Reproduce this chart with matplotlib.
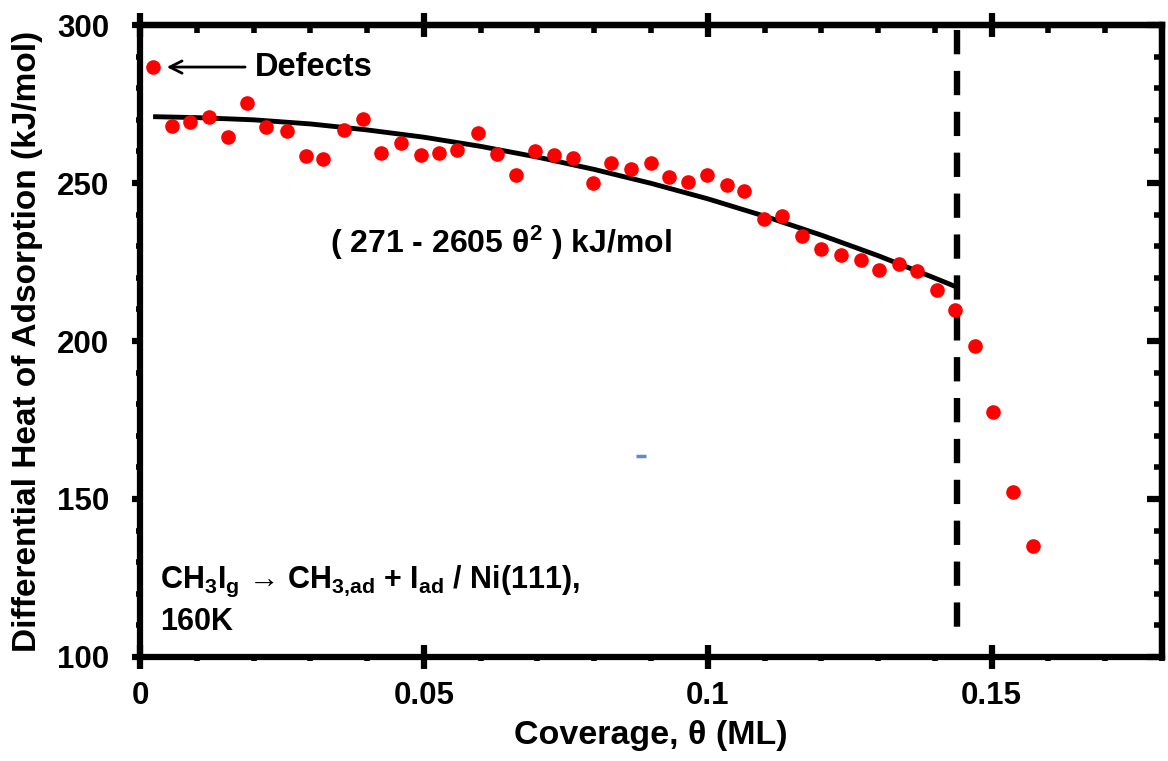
import matplotlib
matplotlib.use("Agg")
import matplotlib.pyplot as plt
from matplotlib.ticker import MultipleLocator, FixedLocator, FixedFormatter

plt.rcParams['font.family'] = ['Liberation Sans', 'DejaVu Sans']
plt.rcParams['font.weight'] = 'bold'
plt.rcParams['mathtext.fontset'] = 'custom'
plt.rcParams['mathtext.rm'] = 'Liberation Sans:bold'
plt.rcParams['mathtext.it'] = 'Liberation Sans:bold'
plt.rcParams['mathtext.bf'] = 'Liberation Sans:bold'
plt.rcParams['mathtext.default'] = 'rm'

# measured differential heats (red dots)
theta = [0.0023, 0.0056, 0.0088, 0.0122, 0.0155, 0.0189, 0.0222, 0.0258,
         0.0293, 0.0323, 0.0360, 0.0392, 0.0425, 0.0459, 0.0494, 0.0526,
         0.0558, 0.0595, 0.0628, 0.0663, 0.0695, 0.0729, 0.0762, 0.0798,
         0.0829, 0.0865, 0.0900, 0.0932, 0.0965, 0.0999, 0.1034, 0.1064,
         0.1099, 0.1131, 0.1165, 0.1200, 0.1235, 0.1269, 0.1302, 0.1336,
         0.1368, 0.1403, 0.1435, 0.1470, 0.1502, 0.1537, 0.1572]
heat = [286.7, 268.0, 269.3, 270.9, 264.6, 275.3, 267.7, 266.5,
        258.5, 257.6, 266.8, 270.3, 259.5, 262.7, 258.9, 259.5,
        260.4, 265.8, 259.2, 252.5, 260.1, 258.9, 257.9, 250.0,
        256.3, 254.4, 256.3, 251.9, 250.3, 252.5, 249.4, 247.5,
        238.6, 239.6, 233.2, 229.1, 227.2, 225.6, 222.5, 224.4,
        222.2, 216.1, 209.8, 198.4, 177.5, 152.2, 135.1]

# fitted curve
fit_theta = [0.0023, 0.01, 0.02, 0.03, 0.04, 0.05, 0.06, 0.07, 0.08,
             0.09, 0.10, 0.11, 0.12, 0.13, 0.14, 0.1438]
fit_heat = [271.0, 270.7, 270.0, 268.7, 266.8, 264.5, 261.6, 258.2, 254.3,
            249.9, 245.0, 239.5, 233.5, 227.0, 219.9, 217.1]

saturation_theta = 0.1438
x_ticks = [0, 0.05, 0.1, 0.15]
x_ticklabels = ['0', '0.05', '0.1', '0.15']
y_ticks = [100, 150, 200, 250, 300]

fig = plt.figure(figsize=(11.68, 7.61), dpi=100)
ax = fig.add_axes([0.1199, 0.1367, 0.8750, 0.8304])

ax.plot(theta, heat, 'o', color='#ff0000', markersize=9.5, zorder=3)
ax.plot(fit_theta, fit_heat, color='black', lw=3.5, solid_capstyle='butt', zorder=2)
ax.plot([saturation_theta, saturation_theta], [298.5, 106], color='black', lw=4.6,
        dashes=(3.8, 2.6), zorder=2)
# small stray blue mark in the original
ax.plot([0.0882], [163.6], marker='_', color='#5b8bd0', markersize=7, mew=2.5)

ax.set_xlim(0, 0.18)
ax.set_ylim(100, 300)

ax.xaxis.set_major_locator(FixedLocator(x_ticks))
ax.xaxis.set_major_formatter(FixedFormatter(x_ticklabels))
ax.xaxis.set_minor_locator(MultipleLocator(0.01))
ax.yaxis.set_major_locator(FixedLocator(y_ticks))
ax.yaxis.set_minor_locator(MultipleLocator(10))

for s in ax.spines.values():
    s.set_linewidth(4.5)

ax.tick_params(axis='x', which='major', direction='inout', length=17, width=4.5,
               pad=9, labelsize=22.5)
ax.tick_params(axis='x', which='minor', direction='out', length=3, width=4)
ax.tick_params(axis='y', which='major', direction='out', length=6, width=4.5,
               pad=16, labelsize=22.5)
ax.tick_params(axis='y', which='minor', direction='out', length=3, width=4)

top = ax.secondary_xaxis('top')
top.xaxis.set_major_locator(FixedLocator(x_ticks))
top.xaxis.set_minor_locator(MultipleLocator(0.01))
top.tick_params(which='major', direction='inout', length=17, width=4.5, labeltop=False)
top.tick_params(which='minor', direction='in', length=6, width=4)
top.spines['top'].set_linewidth(4.5)

right = ax.secondary_yaxis('right')
right.yaxis.set_major_locator(FixedLocator(y_ticks))
right.yaxis.set_minor_locator(MultipleLocator(10))
right.tick_params(which='major', direction='in', length=11, width=4.5, labelright=False)
right.tick_params(which='minor', direction='in', length=6, width=4)
right.spines['right'].set_linewidth(4.5)

ax.set_xlabel('Coverage, θ (ML)', fontsize=24.5, fontweight='bold', labelpad=6)
ax.set_ylabel('Differential Heat of Adsorption (kJ/mol)', fontsize=24,
              fontweight='bold', labelpad=10)

ax.annotate('', xy=(0.0047, 286.7), xytext=(0.0185, 286.7),
            arrowprops=dict(arrowstyle='->', lw=2, color='black',
                            mutation_scale=22, shrinkA=0, shrinkB=0))
ax.text(0.0203, 286.7, 'Defects', fontsize=23.5, fontweight='bold', va='center')
ax.text(0.0335, 231, r'( 271 - 2605 θ$^{2}$ ) kJ/mol', fontsize=23,
        fontweight='bold', va='center')
ax.text(0.0035, 121.8, r'CH$_{3}$I$_{g}$ → CH$_{3{,}ad}$ + I$_{ad}$ / Ni(111),',
        fontsize=22, fontweight='bold', va='baseline')
ax.text(0.0035, 108.6, '160K', fontsize=22, fontweight='bold', va='baseline')

fig.savefig('out.png', dpi=100)
